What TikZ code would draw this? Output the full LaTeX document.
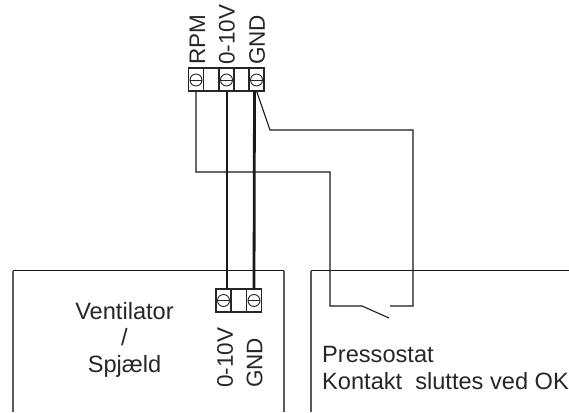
\documentclass[tikz,border=0pt]{standalone}
\usepackage{fontspec}
\setmainfont{Liberation Sans}
\tikzset{
  cell/.style={draw=black!85,line width=1.1pt,minimum width=15pt,minimum height=23pt,inner sep=0pt,outer sep=0pt},
  screw/.style={circle,draw=black!85,line width=0.9pt,minimum size=12pt,inner sep=0pt},
  thinwire/.style={line width=1.1pt,black!90},
  thickwire/.style={line width=2.8pt,black!90},
  boxedge/.style={line width=1.1pt,black!90},
  boxside/.style={line width=1.3pt,black!65},
  pinlabel/.style={rotate=90,anchor=west,inner sep=0pt,font=\fontsize{22.5}{22.5}\selectfont,text=black!85},
  boxlabel/.style={align=center,inner sep=0pt,font=\fontsize{23.6}{26.5}\selectfont,text=black!85},
}
\begin{document}
\begin{tikzpicture}[x=1pt,y=-1pt]
      \useasboundingbox (0,0) rectangle (569,412);
      % boxes
      \draw[boxside] (13,412) coordinate (lb) -- (13,270.5) coordinate (lt);
      \draw[boxside] (284,270.5) coordinate (mt) -- (284,412) coordinate (mb);
      \draw[boxside] (311,412) coordinate (rb) -- (311,270.5) coordinate (rt);
      \coordinate (re) at (569,270.5);
      \draw[boxedge] (lt) -- (mt);
      \draw[boxedge] (rt) -- (re);
      % upper terminal
      \foreach \i/\x in {1/196,2/211,3/226.5,4/241.5,5/256.5}
        \node[cell] (u\i) at (\x,79.5) {};
      \foreach \i/\x in {1/196,3/226.5,5/256.5}
        \node[screw] (us\i) at (\x,80) {};
      \foreach \i in {1,3,5}
        \draw[line width=0.9pt,black!85] (us\i.west) -- (us\i.east);
      % lower terminal
      \foreach \i/\x in {1/223.5,2/238.8,3/254}
        \node[cell] (l\i) at (\x,300.5) {};
      \foreach \i/\x in {1/223.5,3/254}
        \node[screw] (ls\i) at (\x,300.5) {};
      \foreach \i in {1,3}
        \draw[line width=0.9pt,black!85] (ls\i.west) -- (ls\i.east);
      % labels
      \node[pinlabel] (rpm) at (197.5,65) {RPM};
      \node[pinlabel] (volt) at (227,65) {0-10V};
      \node[pinlabel] (gnd) at (257,65) {GND};
      \node[pinlabel] (lvolt) at (225,388) {0-10V};
      \node[pinlabel] (lgnd) at (254.5,388) {GND};
      \node[boxlabel] (vent) at (124.5,339.5) {Ventilator\\/\\Spjæld};
      \node[boxlabel,align=left,anchor=west] (press) at (322,368) {Pressostat\\Kontakt\ \ sluttes ved OK};
      % switch
      \coordinate (sw1) at (362,306);
      \coordinate (sw2) at (389,318);
      \coordinate (sw3) at (390,306);
      % wires
      \draw[thickwire] ([xshift=0.5pt]u3.south) -- ([xshift=3.5pt]l1.north);
      \draw[thickwire] ([xshift=-2pt]u5.south) -- (l3.north);
      \draw[thinwire] (u1.south) -- (196,172) -- (330,172) -- (330,306) -- (sw1) -- (sw2);
      \draw[thinwire] (u5.south) -- (270,130) -- (413,130) -- (413,306) -- (sw3);
    \end{tikzpicture}
\end{document}
